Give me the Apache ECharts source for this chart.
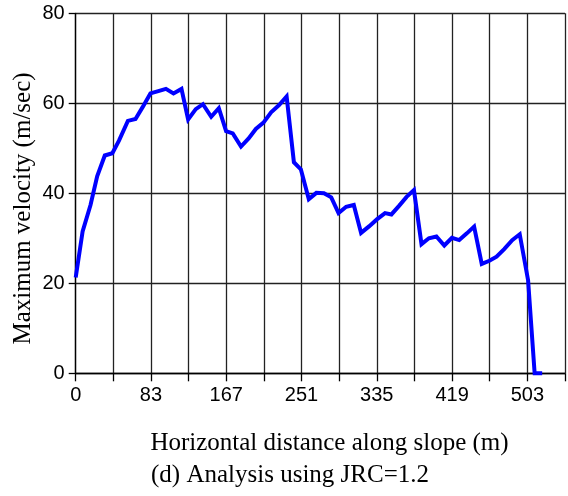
<!DOCTYPE html>
<html>
<head>
<meta charset="utf-8">
<script src="https://cdn.jsdelivr.net/npm/echarts@6/dist/echarts.min.js"></script>
<style>html,body{margin:0;padding:0;background:#fff;}#chart{width:568px;height:496px;}</style>
</head>
<body>
<div id="chart"></div>
<script>
// Horizontal distance along slope (m)
const distances = [0, 7.7, 16.5, 23.9, 32.4, 40.8, 48.2, 58.1, 66.6, 74.7, 83.2, 92.0, 100.5, 108.9, 117.8, 125.2, 133.7, 141.7, 150.9, 159.4, 167.5, 174.9, 184.1, 192.6, 200.6, 209.1, 217.6, 226.5, 234.9, 243.0, 250.8, 259.6, 268.0, 276.5, 284.6, 292.7, 301.2, 309.7, 317.8, 327.0, 335.4, 344.5, 351.6, 360.1, 368.5, 376.7, 385.1, 393.3, 401.7, 410.5, 419.0, 427.1, 435.6, 443.7, 452.2, 460.7, 468.7, 477.2, 486.1, 494.5, 503.8, 511.1, 519.5];
// Maximum velocity (m/sec)
const velocities = [21.3, 31.5, 37.4, 43.8, 48.4, 48.9, 51.7, 56.1, 56.5, 59.2, 62.2, 62.7, 63.2, 62.2, 63.2, 56.4, 58.7, 59.8, 57.0, 58.9, 53.8, 53.3, 50.4, 52.2, 54.3, 55.7, 58.0, 59.6, 61.5, 46.9, 45.3, 38.7, 40.1, 40.0, 39.1, 35.6, 37.0, 37.4, 31.2, 32.7, 34.2, 35.6, 35.3, 37.2, 39.2, 40.7, 28.7, 30.0, 30.4, 28.4, 30.1, 29.6, 31.1, 32.6, 24.3, 25.0, 25.9, 27.6, 29.6, 30.9, 20.7, 0, 0];
// Axis ticks
const xTickStep = 503 / 12;
const xTickCount = 13;
const yTicks = [0, 20, 40, 60, 80];

const xTitle = 'Horizontal distance along slope (m)';
const yTitle = 'Maximum velocity (m/sec)';
const caption = '(d) Analysis using JRC=1.2';

const seriesData = distances.map((d, i) => [d, velocities[i]]);

const serif = 'Liberation Serif';
const chart = echarts.init(document.getElementById('chart'));
chart.setOption({
  animation: false,
  backgroundColor: '#fff',
  grid: { left: 75.7, top: 13.3, width: 493.2, height: 360, containLabel: false },
  xAxis: {
    type: 'value',
    min: 0,
    max: xTickStep * xTickCount,
    interval: xTickStep,
    axisLine: { show: true, onZero: false, lineStyle: { color: '#000', width: 1.3 } },
    axisTick: { show: true, length: 8, inside: false, lineStyle: { color: '#000', width: 1.3 } },
    axisLabel: {
      margin: 12,
      fontFamily: 'Liberation Sans', fontSize: 20, color: '#000',
      formatter: (v) => {
        const k = Math.round(v / xTickStep);
        return k % 2 === 0 && k < xTickCount ? String(Math.floor(v + 1e-6)) : '';
      }
    },
    splitLine: { show: true, lineStyle: { color: '#222', width: 1.3 } }
  },
  yAxis: {
    type: 'value',
    min: yTicks[0],
    max: yTicks[yTicks.length - 1],
    interval: yTicks[1] - yTicks[0],
    axisLine: { show: true, lineStyle: { color: '#000', width: 1.3 } },
    axisTick: { show: true, length: 7, lineStyle: { color: '#000', width: 1.3 } },
    axisLabel: { margin: 11, fontFamily: 'Liberation Sans', fontSize: 20, color: '#000' },
    splitLine: { show: true, lineStyle: { color: '#222', width: 1.3 } }
  },
  graphic: [
    {
      type: 'text', x: 329.5, y: 443,
      style: { text: xTitle, fontFamily: serif, fontSize: 25, fill: '#000', align: 'center', verticalAlign: 'middle' }
    },
    {
      type: 'text', x: 23.5, y: 208.5, rotation: Math.PI / 2,
      style: { text: yTitle, fontFamily: serif, fontSize: 25, fill: '#000', align: 'center', verticalAlign: 'middle' }
    },
    {
      type: 'text', x: 290, y: 475,
      style: { text: caption, fontFamily: serif, fontSize: 25, fill: '#000', align: 'center', verticalAlign: 'middle' }
    }
  ],
  series: [{
    type: 'line',
    data: seriesData,
    showSymbol: false,
    symbol: 'none',
    lineStyle: { color: '#0000ff', width: 4, join: 'miter', cap: 'butt' },
    clip: false
  }]
});
</script>
</body>
</html>
